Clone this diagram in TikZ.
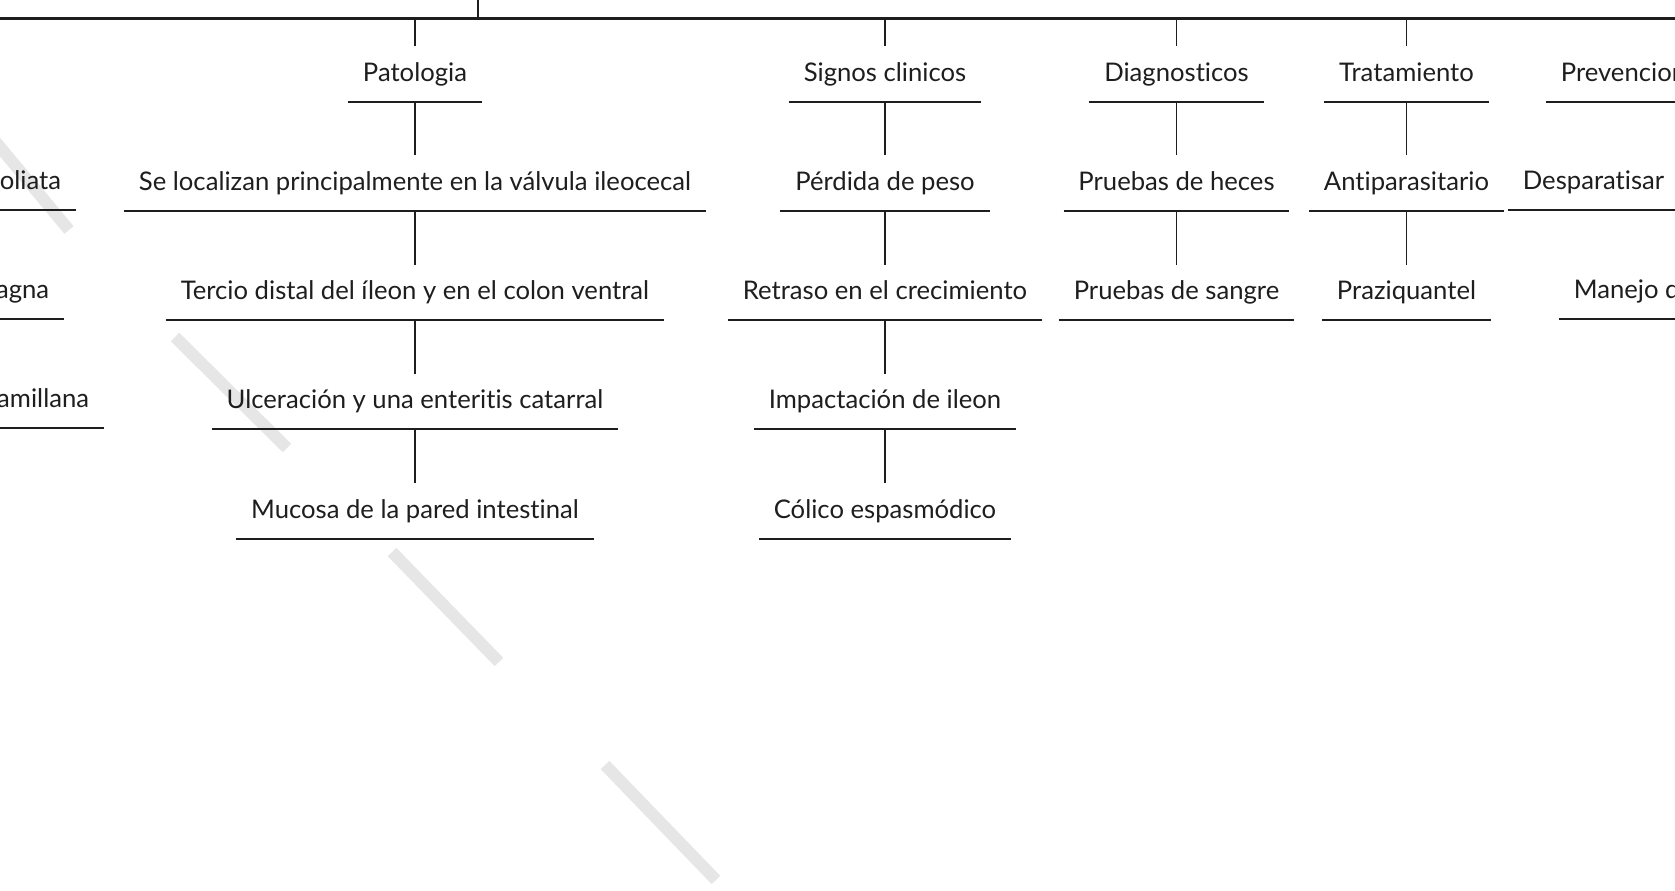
\documentclass[tikz,border=0pt]{standalone}
\usepackage{fontspec}
\setmainfont{Lato}[Ligatures=NoCommon]
\usetikzlibrary{positioning}
\definecolor{ink}{HTML}{1E1E1E}
\definecolor{wm}{HTML}{E6E6E6}

\begin{document}
\begin{tikzpicture}[
    x=0.02cm, y=-0.02cm,
    node distance=1.07cm,
    every node/.style={font=\fontsize{14.6pt}{17pt}\selectfont, text=ink, inner xsep=0.29cm, inner ysep=0pt,
      minimum height=1.1cm, text height=0.92em, text depth=0.08em},
    bus/.style={draw=ink, line width=1.3pt},
    link/.style={draw=ink, line width=0.9pt},
    rule/.style={draw=ink, line width=1.2pt},
    wmark/.style={draw=wm, line width=0.24cm}
  ]
  \useasboundingbox (0,0) rectangle (1675,890);

  % watermark strokes
  \foreach \xa/\ya/\xb/\yb in {-35/105/69/230, 175/337/287/448, 392/552/499/662, 605/765/716/880}
    \draw[wmark] (\xa,\ya) -- (\xb,\yb);

  % top bus and stem
  \coordinate (root) at (478,-5);
  \coordinate (busL) at (-10,18.5);
  \coordinate (busR) at (1690,18.5);
  \draw[bus] (busL) -- (busR);
  \draw[bus] (root) -- (root |- busL);

  % left column (cut off)
  \node[anchor=east] (spp1) at (76,182.5) {oliata};
  \node[anchor=east] (spp2) at (64,291.2) {agna};
  \node[anchor=east] (spp3) at (104,400) {amillana};

  % Patologia
  \node (pat) at (415,74) {Patologia};
  \node[below=of pat] (pat1) {Se localizan principalmente en la válvula ileocecal};
  \node[below=of pat1] (pat2) {Tercio distal del íleon y en el colon ventral};
  \node[below=of pat2] (pat3) {Ulceración y una enteritis catarral};
  \node[below=of pat3] (pat4) {Mucosa de la pared intestinal};

  % Signos clinicos
  \node (sig) at (885,74) {Signos clinicos};
  \node[below=of sig] (sig1) {Pérdida de peso};
  \node[below=of sig1] (sig2) {Retraso en el crecimiento};
  \node[below=of sig2] (sig3) {Impactación de ileon};
  \node[below=of sig3] (sig4) {Cólico espasmódico};

  % Diagnosticos
  \node (diag) at (1176.5,74) {Diagnosticos};
  \node[below=of diag] (diag1) {Pruebas de heces};
  \node[below=of diag1] (diag2) {Pruebas de sangre};

  % Tratamiento
  \node (trat) at (1406.5,74) {Tratamiento};
  \node[below=of trat] (trat1) {Antiparasitario};
  \node[below=of trat1] (trat2) {Praziquantel};

  % right column (cut off)
  \node[anchor=west] (prev) at (1546,74) {Prevencion};
  \node[anchor=west] (prev1) at (1508,182.5) {Desparatisar};
  \node[anchor=west] (prev2) at (1559,291.2) {Manejo de};

  % underlines
  \foreach \n in {spp1,spp2,spp3,pat,pat1,pat2,pat3,pat4,sig,sig1,sig2,sig3,sig4,diag,diag1,diag2,trat,trat1,trat2}
    \draw[rule] (\n.south west) -- (\n.south east);
  \foreach \n in {prev,prev1,prev2}
    \draw[rule] (\n.south west) -- (\n.south west -| busR);

  % ticks from the bus
  \foreach \n in {pat,sig,diag,trat}
    \draw[link] (\n.north |- busL) -- (\n.north);

  % links down each column
  \draw[link] (pat.south) -- (pat1.north);
  \draw[link] (pat1.south) -- (pat2.north);
  \draw[link] (pat2.south) -- (pat3.north);
  \draw[link] (pat3.south) -- (pat4.north);
  \draw[link] (sig.south) -- (sig1.north);
  \draw[link] (sig1.south) -- (sig2.north);
  \draw[link] (sig2.south) -- (sig3.north);
  \draw[link] (sig3.south) -- (sig4.north);
  \draw[link] (diag.south) -- (diag1.north);
  \draw[link] (diag1.south) -- (diag2.north);
  \draw[link] (trat.south) -- (trat1.north);
  \draw[link] (trat1.south) -- (trat2.north);
\end{tikzpicture}
\end{document}
